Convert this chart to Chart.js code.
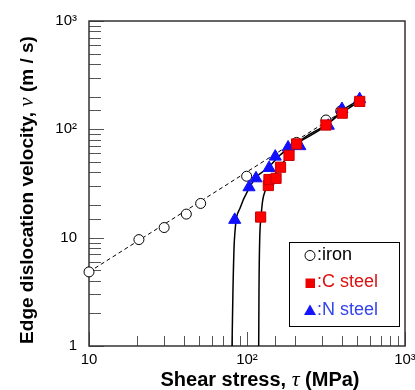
<!DOCTYPE html>
<html>
<head>
<meta charset="utf-8">
<script src="https://cdn.jsdelivr.net/npm/chart.js@4.4.0/dist/chart.umd.min.js"></script>
<style>
    html, body { margin: 0; padding: 0; background: #fff; overflow: hidden; }
</style>
</head>
<body>
<canvas id="chart" width="425" height="390"></canvas>
<script>
// measured points (shear stress in MPa, velocity in m/s)
const ironStress = [10, 20.7, 29.9, 41.3, 50.9, 99.5, 206, 316, 392, 514];
const ironVelocity = [4.83, 9.6, 12.4, 16.5, 20.7, 36.9, 75.7, 122, 148, 183];
const cSteelStress = [122, 136.5, 137.7, 152.7, 163, 184.5, 206, 316, 401, 517];
const cSteelVelocity = [15.5, 30.3, 34.4, 35.3, 44.7, 57.5, 73.3, 109.6, 141, 181];
const nSteelStress = [83.6, 103, 114, 138, 151, 182, 216, 327, 399, 516];
const nSteelVelocity = [14.6, 29.2, 35.3, 44, 56, 68, 70, 108, 154, 190];

// fitted curves
const ironFitStress = [10, 518];
const ironFitVelocity = [4.83, 185];
const cFitStress = [118.6, 119.1, 120.3, 122.7, 125.7, 130.6, 137.7, 152.7, 169, 187, 207, 316, 399, 519];
const cFitVelocity = [1, 3.27, 9.45, 15.5, 22.1, 27.3, 32.9, 39.9, 49.3, 59.4, 73.4, 110, 142, 183];
const nFitStress = [80.4, 81.5, 83.2, 90.8, 102.6, 114, 138, 160, 200, 316, 398, 518];
const nFitVelocity = [1, 3.27, 9.45, 19.1, 28.2, 35.9, 45, 57, 72, 108, 148, 188];

const xTickLabels = { 10: "10", 100: "10\u00b2", 1000: "10\u00b3" };
const yTickLabels = { 1: "1", 10: "10", 100: "10\u00b2", 1000: "10\u00b3" };

const toPoints = (xs, ys) => xs.map((x, i) => ({ x: x, y: ys[i] }));

const isPow10 = (v) => {
    const e = Math.log10(v);
    return Math.abs(e - Math.round(e)) < 1e-6;
};

const SANS = "'Liberation Sans', Arial, sans-serif";
const SERIF = "'Liberation Serif', 'Times New Roman', serif";

function drawMixed(ctx, parts, x, y, angle) {
    ctx.save();
    ctx.translate(x, y);
    ctx.rotate(angle);
    ctx.textBaseline = "alphabetic";
    ctx.textAlign = "left";
    let total = 0;
    parts.forEach((p) => {
        ctx.font = p.font;
        total += ctx.measureText(p.text).width;
    });
    let cx = -total / 2;
    parts.forEach((p) => {
        ctx.font = p.font;
        ctx.fillStyle = "#000";
        ctx.fillText(p.text, cx, 0);
        cx += ctx.measureText(p.text).width;
    });
    ctx.restore();
}

const frameAndTicks = {
    id: "frameAndTicks",
    beforeDatasetsDraw(chart) {
        const { ctx, chartArea: a, scales } = chart;
        ctx.save();
        ctx.strokeStyle = "#555";
        ctx.lineWidth = 1;
        ctx.beginPath();
        scales.x.ticks.forEach((t) => {
            const px = Math.round(scales.x.getPixelForValue(t.value)) + 0.5;
            const len = isPow10(t.value) ? 14 : 10;
            ctx.moveTo(px, a.bottom);
            ctx.lineTo(px, a.bottom - len);
        });
        scales.y.ticks.forEach((t) => {
            const py = Math.round(scales.y.getPixelForValue(t.value)) + 0.5;
            const len = isPow10(t.value) ? 15 : 12;
            ctx.moveTo(a.left, py);
            ctx.lineTo(a.left + len, py);
        });
        ctx.stroke();
        ctx.strokeStyle = "#333";
        ctx.lineWidth = 1.5;
        ctx.strokeRect(a.left, a.top, a.right - a.left, a.bottom - a.top);
        ctx.restore();
    },
    afterDraw(chart) {
        const ctx = chart.ctx;

        drawMixed(ctx, [
            { text: "Shear stress, ", font: "bold 20px " + SANS },
            { text: "\u03c4", font: "italic 22px " + SERIF },
            { text: " (MPa)", font: "bold 20px " + SANS }
        ], 260, 386, 0);

        drawMixed(ctx, [
            { text: "Edge dislocation velocity, ", font: "bold 19px " + SANS },
            { text: "v", font: "italic 21px " + SERIF },
            { text: " (m / s)", font: "bold 19px " + SANS }
        ], 33, 190, -Math.PI / 2);

        // legend
        ctx.save();
        ctx.strokeStyle = "#000";
        ctx.lineWidth = 1;
        ctx.strokeRect(289.5, 242.5, 110, 84);

        ctx.beginPath();
        ctx.arc(310, 255.5, 5, 0, Math.PI * 2);
        ctx.fillStyle = "#fff";
        ctx.fill();
        ctx.stroke();

        ctx.fillStyle = "#ee0000";
        ctx.fillRect(305.5, 278.5, 9.5, 9.5);

        ctx.fillStyle = "#1414ff";
        ctx.beginPath();
        ctx.moveTo(310, 304.5);
        ctx.lineTo(316, 315);
        ctx.lineTo(304, 315);
        ctx.closePath();
        ctx.fill();

        ctx.font = "18px " + SANS;
        ctx.textAlign = "left";
        ctx.textBaseline = "alphabetic";
        ctx.fillStyle = "#000";
        ctx.fillText(":iron", 317, 259.5);
        ctx.fillStyle = "#dd1111";
        ctx.fillText(":C steel", 317, 287);
        ctx.fillStyle = "#3344ee";
        ctx.fillText(":N steel", 317, 314.5);
        ctx.restore();
    }
};

new Chart(document.getElementById("chart"), {
    type: "scatter",
    data: {
        datasets: [
            {
                label: "C steel",
                data: toPoints(cSteelStress, cSteelVelocity),
                pointStyle: "rect",
                pointRadius: 7.2,
                backgroundColor: "#ff0000",
                borderColor: "#c80000",
                borderWidth: 1,
                clip: false
            },
            {
                label: "N steel",
                data: toPoints(nSteelStress, nSteelVelocity),
                pointStyle: "triangle",
                pointRadius: 7,
                backgroundColor: "#1010ff",
                borderColor: "#1010ff",
                borderWidth: 1,
                clip: false
            },
            {
                label: "iron",
                data: toPoints(ironStress, ironVelocity),
                pointStyle: "circle",
                pointRadius: 5,
                backgroundColor: "#ffffff",
                borderColor: "#000000",
                borderWidth: 1,
                clip: false
            },
            {
                label: "iron fit",
                data: toPoints(ironFitStress, ironFitVelocity),
                showLine: true,
                pointRadius: 0,
                borderColor: "#000000",
                borderWidth: 1,
                borderDash: [4, 3]
            },
            {
                label: "C steel fit",
                data: toPoints(cFitStress, cFitVelocity),
                showLine: true,
                cubicInterpolationMode: "monotone",
                pointRadius: 0,
                borderColor: "#000000",
                borderWidth: 1.5
            },
            {
                label: "N steel fit",
                data: toPoints(nFitStress, nFitVelocity),
                showLine: true,
                cubicInterpolationMode: "monotone",
                pointRadius: 0,
                borderColor: "#000000",
                borderWidth: 1.5
            }
        ]
    },
    options: {
        responsive: false,
        animation: false,
        events: [],
        layout: { padding: { top: 20, right: 20, left: 0, bottom: 0 } },
        plugins: {
            legend: { display: false },
            tooltip: { enabled: false }
        },
        scales: {
            x: {
                type: "logarithmic",
                min: 10,
                max: 1000,
                grid: { display: false, drawTicks: false },
                border: { display: false },
                afterFit: (scale) => { scale.height = 44; },
                ticks: {
                    autoSkip: false,
                    maxRotation: 0,
                    padding: 5,
                    color: "#000",
                    font: { family: SANS, size: 15 },
                    callback: (v) => (isPow10(v) ? xTickLabels[Math.round(v)] : "")
                }
            },
            y: {
                type: "logarithmic",
                min: 1,
                max: 1000,
                grid: { display: false, drawTicks: false },
                border: { display: false },
                afterFit: (scale) => { scale.width = 89; },
                ticks: {
                    autoSkip: false,
                    padding: 12,
                    color: "#000",
                    font: { family: SANS, size: 15 },
                    callback: (v) => (isPow10(v) ? yTickLabels[Math.round(v)] : "")
                }
            }
        }
    },
    plugins: [frameAndTicks]
});
</script>
</body>
</html>
